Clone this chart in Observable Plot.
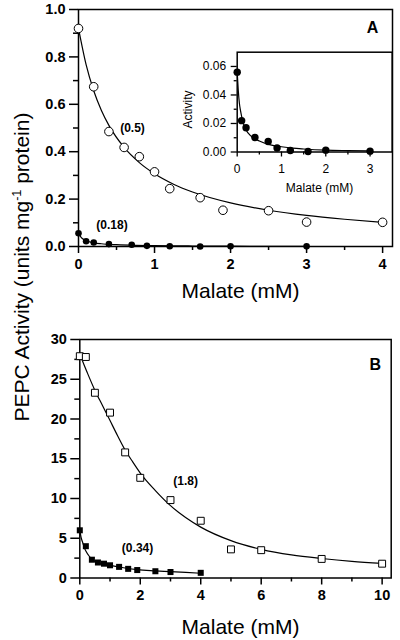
<!DOCTYPE html>
<html>
<head>
<meta charset="utf-8">
<script src="https://cdn.jsdelivr.net/npm/d3@7"></script>
<script src="https://cdn.jsdelivr.net/npm/@observablehq/plot@0.6"></script>
<style>
  body { margin: 0; background: #fff; }
  #wrap { position: relative; width: 400px; height: 640px; overflow: hidden; font-family: "Liberation Sans", Arial, Helvetica, sans-serif; }
  #wrap > svg, #wrap > div { position: absolute; }
  #ylab { left: 21px; top: 267px; transform: translate(-50%, -50%) rotate(-90deg); white-space: nowrap; font-size: 21px; color: #000; line-height: 1; }
  #ylab sup { font-size: 0.6em; vertical-align: 0.6em; }
</style>
</head>
<body>
<div id="wrap"><div id="ylab">PEPC Activity (units mg<sup>-1</sup> protein)</div></div>
<script>
// ---------- Panel A data ----------
const aOpenX   = [0, 0.2, 0.4, 0.6, 0.8, 1.0, 1.2, 1.6, 1.9, 2.5, 3.0, 4.0];
const aOpenY   = [0.92, 0.674, 0.485, 0.418, 0.379, 0.315, 0.244, 0.206, 0.153, 0.151, 0.103, 0.102];
const aFilledX = [0, 0.1, 0.2, 0.4, 0.7, 0.9, 1.2, 1.6, 2.0, 3.0];
const aFilledY = [0.056, 0.022, 0.017, 0.0102, 0.0074, 0.0028, 0.001, 0.0003, 0.0013, 0.0006];
const aOpenCurveX   = [0, 0.1, 0.2, 0.3, 0.4, 0.6, 0.8, 1.0, 1.25, 1.5, 2, 2.5, 3, 3.5, 4];
const aOpenCurveY   = [0.92, 0.767, 0.657, 0.575, 0.511, 0.418, 0.354, 0.307, 0.263, 0.23, 0.184, 0.153, 0.131, 0.115, 0.102];
const aFilledCurveX = [0, 0.025, 0.05, 0.075, 0.1, 0.15, 0.2, 0.3, 0.5, 0.75, 1.0, 1.25, 1.5, 2.0, 2.5, 3.0];
const aFilledCurveY = [0.056, 0.043, 0.034, 0.029, 0.025, 0.019, 0.0155, 0.0115, 0.0077, 0.005, 0.0037, 0.0027, 0.0021, 0.0013, 0.001, 0.0008];
const aXTicks = [0, 1, 2, 3, 4];
const aXMinor = [0.5, 1.5, 2.5, 3.5];
const aYTicks = [0, 0.2, 0.4, 0.6, 0.8, 1.0];
const aYMinor = [0.1, 0.3, 0.5, 0.7, 0.9];
const aAnnot = [{x: 0.71, y: 0.50, text: "(0.5)"}, {x: 0.44, y: 0.092, text: "(0.18)"}];

// ---------- Inset data ----------
const insetXTicks = [0, 1, 2, 3];
const insetXMinor = [0.5, 1.5, 2.5];
const insetYTicks = [0, 0.02, 0.04, 0.06];
const insetYMinor = [0.01, 0.03, 0.05];

// ---------- Panel B data ----------
const bOpenX   = [0, 0.2, 0.5, 1.0, 1.5, 2.0, 3.0, 4.0, 5.0, 6.0, 8.0, 10.0];
const bOpenY   = [27.9, 27.8, 23.3, 20.8, 15.8, 12.6, 9.8, 7.2, 3.6, 3.5, 2.4, 1.8];
const bFilledX = [0, 0.2, 0.4, 0.6, 0.8, 1.0, 1.3, 1.6, 1.9, 2.5, 3.0, 4.0];
const bFilledY = [6.0, 4.0, 2.3, 1.95, 1.8, 1.6, 1.4, 1.15, 1.0, 0.85, 0.75, 0.65];
const bOpenCurveX   = [0, 0.1, 0.25, 0.5, 0.75, 1, 1.25, 1.5, 1.75, 2, 2.5, 3, 3.5, 4, 5, 6, 7, 8, 9, 10];
const bOpenCurveY   = [28.2, 27.2, 25.8, 23.6, 21.7, 19.8, 17.9, 16.1, 14.6, 13.2, 11.0, 9.1, 7.6, 6.4, 4.7, 3.6, 2.9, 2.45, 2.1, 1.85];
const bFilledCurveX = [0, 0.05, 0.1, 0.15, 0.2, 0.3, 0.45, 0.6, 0.8, 1.0, 1.35, 1.9, 2.5, 3.0, 4.0];
const bFilledCurveY = [6.0, 5.0, 4.4, 3.8, 3.4, 2.8, 2.2, 1.95, 1.75, 1.6, 1.35, 1.05, 0.9, 0.8, 0.6];
const bXTicks = [0, 2, 4, 6, 8, 10];
const bXMinor = [1, 3, 5, 7, 9];
const bYTicks = [0, 5, 10, 15, 20, 25, 30];
const bYMinor = [2.5, 7.5, 12.5, 17.5, 22.5, 27.5];
const bAnnot = [{x: 3.5, y: 12.2, text: "(1.8)"}, {x: 1.91, y: 3.7, text: "(0.34)"}];

const xLabel = "Malate (mM)";
const insetYLabel = "Activity";

// ---------- helpers ----------
const FONT = '"Liberation Sans", Arial, Helvetica, sans-serif';
const zip = (xs, ys) => xs.map((x, i) => ({x, y: ys[i]}));
const blank = () => "";
const STYLE = {fontFamily: FONT, background: "transparent", color: "black", overflow: "visible"};
const wrap = document.getElementById("wrap");
function place(el, left, top) { el.style.left = left + "px"; el.style.top = top + "px"; wrap.appendChild(el); }

// ---------- Panel A ----------
const chartA = Plot.plot({
  width: 400, height: 310,
  marginLeft: 78, marginRight: 8, marginTop: 9, marginBottom: 64,
  x: {domain: [0, 4.13]}, y: {domain: [0, 1]},
  style: STYLE,
  marks: [
    Plot.axisY({ticks: aYTicks, tickFormat: d3.format(".1f"), tickSize: 9, tickPadding: 4, fontSize: 14.5, fontWeight: "bold", strokeWidth: 1.5, label: null}),
    Plot.axisY({ticks: aYMinor, tickFormat: blank, tickSize: 5, strokeWidth: 1.5, label: null}),
    Plot.axisX({ticks: aXTicks, tickFormat: d3.format("d"), tickSize: 7, tickPadding: 5, fontSize: 14.5, fontWeight: "bold", strokeWidth: 1.5, label: null}),
    Plot.axisX({ticks: aXMinor, tickFormat: blank, tickSize: 4, strokeWidth: 1.5, label: null}),
    Plot.frame({stroke: "black", strokeWidth: 1.5}),
    Plot.line(zip(aOpenCurveX, aOpenCurveY), {x: "x", y: "y", curve: "monotone-x", stroke: "black", strokeWidth: 1.2}),
    Plot.line(zip(aFilledCurveX, aFilledCurveY), {x: "x", y: "y", curve: "monotone-x", stroke: "black", strokeWidth: 1.2}),
    Plot.dot(zip(aOpenX, aOpenY), {x: "x", y: "y", r: 4.3, fill: "white", stroke: "black", strokeWidth: 1}),
    Plot.dot(zip(aFilledX, aFilledY), {x: "x", y: "y", r: 3.3, fill: "black", stroke: "none"}),
    Plot.text(aAnnot, {x: "x", y: "y", text: "text", fontSize: 12, fontWeight: "bold", fill: "black"}),
    Plot.text(["A"], {text: d => d, frameAnchor: "top-right", dx: -20, dy: 18.5, textAnchor: "middle", lineAnchor: "middle", fontSize: 16, fontWeight: "bold", fill: "black"}),
    Plot.text([xLabel], {text: d => d, frameAnchor: "bottom", dx: 5, dy: 45, lineAnchor: "middle", fontSize: 21, fill: "black"})
  ]
});
place(chartA, 0, 0);

// ---------- Inset ----------
const inset = Plot.plot({
  width: 230, height: 170,
  marginLeft: 66.7, marginRight: 8.3, marginTop: 11.7, marginBottom: 58.5,
  x: {domain: [0, 3.5]}, y: {domain: [0, 0.07]},
  style: STYLE,
  marks: [
    Plot.axisY({ticks: insetYTicks, tickFormat: d3.format(".2f"), tickSize: 6, tickPadding: 5, fontSize: 12, strokeWidth: 1.3, label: null}),
    Plot.axisY({ticks: insetYMinor, tickFormat: blank, tickSize: 3, strokeWidth: 1.3, label: null}),
    Plot.axisX({ticks: insetXTicks, tickFormat: d3.format("d"), tickSize: 5, tickPadding: 7, fontSize: 12, strokeWidth: 1.3, label: null}),
    Plot.axisX({ticks: insetXMinor, tickFormat: blank, tickSize: 3, strokeWidth: 1.3, label: null}),
    Plot.frame({stroke: "black", strokeWidth: 1.5}),
    Plot.line(zip(aFilledCurveX, aFilledCurveY), {x: "x", y: "y", curve: "monotone-x", stroke: "black", strokeWidth: 1.2}),
    Plot.dot(zip(aFilledX, aFilledY), {x: "x", y: "y", r: 3.7, fill: "black", stroke: "none"}),
    Plot.text([insetYLabel], {text: d => d, frameAnchor: "left", rotate: -90, dx: -48.7, dy: 7.4, textAnchor: "middle", lineAnchor: "middle", fontSize: 12, fill: "black"}),
    Plot.text([xLabel], {text: d => d, frameAnchor: "bottom", dx: 4.8, dy: 36.5, lineAnchor: "middle", fontSize: 12, fill: "black"})
  ]
});
place(inset, 170, 40);

// ---------- Panel B ----------
const chartB = Plot.plot({
  width: 400, height: 330,
  marginLeft: 79.3, marginRight: 9.3, marginTop: 29, marginBottom: 62.5,
  x: {domain: [0, 10.3]}, y: {domain: [0, 30]},
  style: STYLE,
  marks: [
    Plot.axisY({ticks: bYTicks, tickFormat: d3.format("d"), tickSize: 9, tickPadding: 4, fontSize: 14.5, fontWeight: "bold", strokeWidth: 1.5, label: null}),
    Plot.axisY({ticks: bYMinor, tickFormat: blank, tickSize: 5, strokeWidth: 1.5, label: null}),
    Plot.axisX({ticks: bXTicks, tickFormat: d3.format("d"), tickSize: 7, tickPadding: 5, fontSize: 14.5, fontWeight: "bold", strokeWidth: 1.5, label: null}),
    Plot.axisX({ticks: bXMinor, tickFormat: blank, tickSize: 4, strokeWidth: 1.5, label: null}),
    Plot.frame({stroke: "black", strokeWidth: 1.5}),
    Plot.line(zip(bOpenCurveX, bOpenCurveY), {x: "x", y: "y", curve: "monotone-x", stroke: "black", strokeWidth: 1.2}),
    Plot.line(zip(bFilledCurveX, bFilledCurveY), {x: "x", y: "y", curve: "monotone-x", stroke: "black", strokeWidth: 1.2}),
    Plot.dot(zip(bOpenX, bOpenY), {x: "x", y: "y", symbol: "square", r: 3.9, fill: "white", stroke: "black", strokeWidth: 1}),
    Plot.dot(zip(bFilledX, bFilledY), {x: "x", y: "y", symbol: "square", r: 3.4, fill: "black", stroke: "none"}),
    Plot.text(bAnnot, {x: "x", y: "y", text: "text", fontSize: 12, fontWeight: "bold", fill: "black"}),
    Plot.text(["B"], {text: d => d, frameAnchor: "top-right", dx: -16, dy: 25.5, textAnchor: "middle", lineAnchor: "middle", fontSize: 16, fontWeight: "bold", fill: "black"}),
    Plot.text([xLabel], {text: d => d, frameAnchor: "bottom", dx: 5, dy: 48.8, lineAnchor: "middle", fontSize: 21, fill: "black"})
  ]
});
place(chartB, 0, 310);
</script>
</body>
</html>
